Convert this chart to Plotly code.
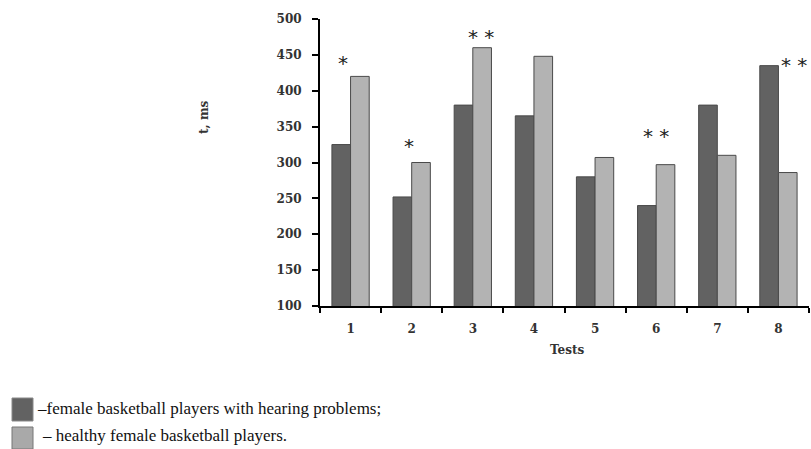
import plotly.graph_objects as go

tests = ["1", "2", "3", "4", "5", "6", "7", "8"]
hearing_problems = [325, 252, 380, 365, 280, 240, 380, 435]
healthy = [420, 300, 460, 448, 307, 297, 310, 286]
y_ticks = [100, 150, 200, 250, 300, 350, 400, 450, 500]

# significance marks: (category position index, y value, text)
sig_x = [-0.12, 0.96, 2.14, 4.99, 7.25]
sig_y = [439, 323, 475, 337, 436]
sig_text = ["*", "*", "* *", "* *", "* *"]

DARK = "#626262"
LIGHT = "#b3b3b3"
EDGE = "#4a4a4a"

W, H = 811, 449
ML, MR, MT, MB = 320, 2, 19, 143

fig = go.Figure()
fig.add_trace(go.Bar(x=tests, y=hearing_problems, marker=dict(color=DARK, line=dict(color=EDGE, width=1)),
                     name="female basketball players with hearing problems"))
fig.add_trace(go.Bar(x=tests, y=healthy, marker=dict(color=LIGHT, line=dict(color=EDGE, width=1)),
                     name="healthy female basketball players"))

tickfont = dict(family="DejaVu Serif", size=12, color="#333333", weight="bold")

fig.update_layout(
    width=W, height=H,
    margin=dict(l=ML, r=MR, t=MT, b=MB),
    paper_bgcolor="white", plot_bgcolor="white",
    barmode="group", bargap=0.39, bargroupgap=0,
    showlegend=False,
    xaxis=dict(type="category", tickson="boundaries", ticks="outside", ticklen=5, tickwidth=2,
               tickcolor="black", showline=True, linecolor="black", linewidth=2,
               tickfont=tickfont, showgrid=False, zeroline=False, ticklabelstandoff=11),
    yaxis=dict(range=[100, 500], tickvals=y_ticks, ticks="outside", ticklen=6, tickwidth=2,
               tickcolor="black", showline=True, linecolor="black", linewidth=2,
               tickfont=tickfont, showgrid=False, zeroline=False, ticklabelstandoff=8),
)

for xs, ys, t in zip(sig_x, sig_y, sig_text):
    fig.add_annotation(x=xs, y=ys, xref="x", yref="y", text=t, showarrow=False,
                       xanchor="center", yanchor="middle",
                       font=dict(family="DejaVu Sans", size=20, color="#222222"))


def px_x(px):
    return (px - ML) / (W - ML - MR)


def px_y(py):
    return (H - MB - py) / (H - MB - MT)


# axis titles
fig.add_annotation(x=px_x(204), y=px_y(117), xref="paper", yref="paper", text="t, ms", showarrow=False,
                   xanchor="center", yanchor="middle", textangle=-90,
                   font=dict(family="DejaVu Serif", size=12, color="#333333", weight="bold"))
fig.add_annotation(x=px_x(567), y=px_y(350), xref="paper", yref="paper", text="Tests", showarrow=False,
                   xanchor="center", yanchor="middle",
                   font=dict(family="DejaVu Serif", size=12, color="#333333", weight="bold"))

# legend (custom)
fig.add_shape(type="rect", xref="paper", yref="paper", x0=px_x(12), x1=px_x(33), y0=px_y(421), y1=px_y(398),
              fillcolor=DARK, line=dict(color="#888888", width=1))
fig.add_shape(type="rect", xref="paper", yref="paper", x0=px_x(12), x1=px_x(33), y0=px_y(449), y1=px_y(427),
              fillcolor="#a9a9a9", line=dict(color="#777777", width=1))
fig.add_annotation(x=px_x(35), y=px_y(408), xref="paper", yref="paper", xanchor="left", yanchor="middle",
                   text="–female basketball players with hearing problems;", showarrow=False,
                   font=dict(family="Liberation Serif", size=17, color="#111111"))
fig.add_annotation(x=px_x(40), y=px_y(435), xref="paper", yref="paper", xanchor="left", yanchor="middle",
                   text="– healthy female basketball players.", showarrow=False,
                   font=dict(family="Liberation Serif", size=17, color="#111111"))

fig.write_html("out.html", config={"displayModeBar": False},
               post_script="document.body.style.margin='0';document.body.style.overflow='hidden';")
